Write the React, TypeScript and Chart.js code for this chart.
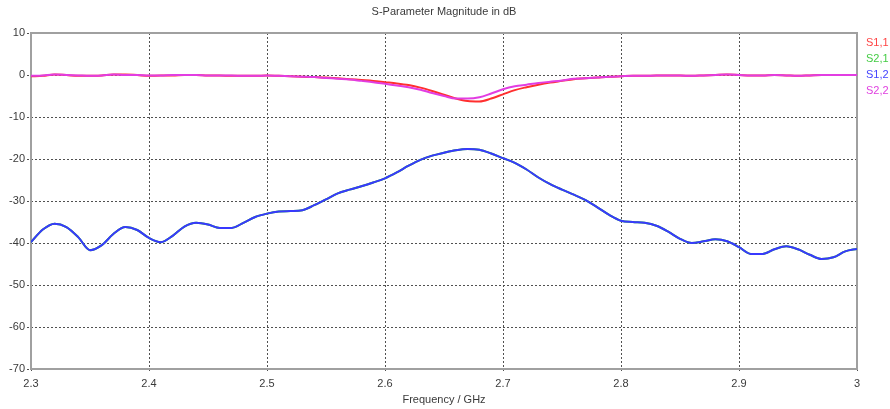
import React, { useEffect, useRef } from "react";
import { Chart, registerables } from "chart.js";

Chart.register(...registerables);

const TITLE = "S-Parameter Magnitude in dB";
const X_TITLE = "Frequency / GHz";
const SERIES_NAMES = ["S1,1", "S2,1", "S1,2", "S2,2"];
const SERIES_COLORS = ["#ff2f2f", "#22bb22", "#3838ff", "#e23de2"];
const LEGEND_COLORS = ["#ff4444", "#44cc44", "#4444ff", "#e040e0"];

const X_TICKS = [2.3, 2.4, 2.5, 2.6, 2.7, 2.8, 2.9, 3.0];
const Y_TICKS = [10, 0, -10, -20, -30, -40, -50, -60, -70];

const FREQ = [
  2.3, 2.31, 2.32, 2.33, 2.34, 2.35, 2.36, 2.37, 2.38, 2.39,
  2.4, 2.41, 2.42, 2.43, 2.44, 2.45, 2.46, 2.47, 2.48, 2.49,
  2.5, 2.51, 2.52, 2.53, 2.54, 2.55, 2.56, 2.57, 2.58, 2.59,
  2.6, 2.61, 2.62, 2.63, 2.64, 2.65, 2.66, 2.67, 2.68, 2.69,
  2.7, 2.71, 2.72, 2.73, 2.74, 2.75, 2.76, 2.77, 2.78, 2.79,
  2.8, 2.81, 2.82, 2.83, 2.84, 2.85, 2.86, 2.87, 2.88, 2.89,
  2.9, 2.91, 2.92, 2.93, 2.94, 2.95, 2.96, 2.97, 2.98, 2.99, 3.0,
];

const S11 = [
  -0.3, -0.2, 0.1, 0.0, -0.2, -0.2, -0.1, 0.1, 0.1, 0.0,
  -0.2, -0.1, -0.1, 0.0, 0.0, -0.1, -0.1, -0.2, -0.2, -0.2,
  -0.1, -0.2, -0.3, -0.4, -0.5, -0.6, -0.8, -1.0, -1.2, -1.4,
  -1.7, -2.0, -2.4, -3.0, -3.8, -4.7, -5.6, -6.2, -6.3, -5.6,
  -4.6, -3.6, -2.9, -2.3, -1.8, -1.4, -1.0, -0.8, -0.6, -0.4,
  -0.3, -0.2, -0.2, -0.1, -0.1, -0.1, -0.2, -0.1, 0.0, 0.1,
  0.0, -0.1, -0.1, 0.0, -0.1, -0.2, -0.1, 0.0, 0.0, 0.0, 0.0,
];

const S22 = [
  -0.2, -0.1, 0.1, 0.0, -0.1, -0.2, -0.1, 0.1, 0.0, 0.0,
  -0.1, -0.1, 0.0, 0.0, 0.0, -0.1, -0.1, -0.1, -0.2, -0.2,
  -0.1, -0.2, -0.3, -0.4, -0.5, -0.7, -0.9, -1.1, -1.4, -1.7,
  -2.1, -2.5, -2.9, -3.5, -4.3, -5.0, -5.6, -5.6, -5.3, -4.4,
  -3.4, -2.7, -2.3, -1.9, -1.6, -1.3, -0.9, -0.8, -0.6, -0.4,
  -0.3, -0.2, -0.2, -0.1, -0.1, -0.1, -0.2, -0.1, 0.0, 0.1,
  0.0, -0.1, -0.1, 0.0, -0.1, -0.2, -0.1, 0.0, 0.0, 0.0, 0.0,
];

const S12 = [
  -39.8, -36.8, -35.4, -36.2, -38.6, -41.7, -40.5, -37.8, -36.2, -36.9,
  -38.8, -39.8, -38.3, -36.1, -35.2, -35.6, -36.4, -36.4, -35.2, -33.8,
  -33.0, -32.5, -32.4, -32.2, -31.0, -29.6, -28.2, -27.3, -26.5, -25.6,
  -24.6, -23.2, -21.6, -20.2, -19.2, -18.5, -17.9, -17.6, -17.8, -18.7,
  -19.8, -20.9, -22.5, -24.4, -26.0, -27.3, -28.5, -29.8, -31.5, -33.3,
  -34.7, -35.0, -35.2, -35.9, -37.3, -39.0, -40.0, -39.6, -39.1, -39.6,
  -41.0, -42.6, -42.6, -41.5, -40.8, -41.5, -42.8, -43.8, -43.4, -42.0, -41.4,
];

const S21 = [
  -39.8, -36.8, -35.4, -36.2, -38.6, -41.7, -40.5, -37.8, -36.2, -36.9,
  -38.8, -39.8, -38.3, -36.1, -35.2, -35.6, -36.4, -36.4, -35.2, -33.8,
  -33.0, -32.5, -32.4, -32.2, -31.0, -29.6, -28.2, -27.3, -26.5, -25.6,
  -24.6, -23.2, -21.6, -20.2, -19.2, -18.5, -17.9, -17.6, -17.8, -18.7,
  -19.8, -20.9, -22.5, -24.4, -26.0, -27.3, -28.5, -29.8, -31.5, -33.3,
  -34.7, -35.0, -35.2, -35.9, -37.3, -39.0, -40.0, -39.6, -39.1, -39.6,
  -41.0, -42.6, -42.6, -41.5, -40.8, -41.5, -42.8, -43.8, -43.4, -42.0, -41.4,
];

const X_MIN = 2.3;
const X_MAX = 3.0;
const Y_MIN = -70;
const Y_MAX = 10;

const FONT = "'Liberation Sans', Arial, sans-serif";

const decorPlugin = {
  id: "decor",
  beforeDatasetsDraw(chart: any) {
    const { ctx, chartArea } = chart;
    const xs = chart.scales.x;
    const ys = chart.scales.y;
    ctx.save();
    // dotted grid
    ctx.strokeStyle = "#505050";
    ctx.lineWidth = 1;
    ctx.setLineDash([2, 2]);
    X_TICKS.forEach((v) => {
      const px = Math.round(xs.getPixelForValue(v)) + 0.5;
      ctx.beginPath();
      ctx.moveTo(px, chartArea.top);
      ctx.lineTo(px, chartArea.bottom + 4);
      ctx.stroke();
    });
    Y_TICKS.forEach((v) => {
      const py = Math.round(ys.getPixelForValue(v)) + 0.5;
      ctx.beginPath();
      ctx.moveTo(chartArea.left - 4, py);
      ctx.lineTo(chartArea.right, py);
      ctx.stroke();
    });
    ctx.setLineDash([]);
    // frame
    ctx.strokeStyle = "#a0a0a0";
    ctx.lineWidth = 2;
    ctx.strokeRect(
      chartArea.left,
      chartArea.top,
      chartArea.right - chartArea.left,
      chartArea.bottom - chartArea.top
    );
    ctx.restore();
  },
  afterDraw(chart: any) {
    const { ctx, chartArea } = chart;
    const cx = (chartArea.left + chartArea.right) / 2;
    ctx.save();
    ctx.font = `11px ${FONT}`;
    ctx.fillStyle = "#3a3a3a";
    ctx.textAlign = "center";
    ctx.textBaseline = "middle";
    ctx.fillText(TITLE, cx, 12);
    ctx.fillText(X_TITLE, cx, 400);
    ctx.textAlign = "left";
    SERIES_NAMES.forEach((n, i) => {
      ctx.fillStyle = LEGEND_COLORS[i];
      ctx.fillText(n, chartArea.right + 9, 43 + i * 16);
    });
    ctx.restore();
  },
};

export default function App() {
  const ref = useRef<HTMLCanvasElement>(null);
  useEffect(() => {
    if (!ref.current) return;
    const series = [S11, S21, S12, S22];
    const orders = [3, 2, 1, 0];
    const chart = new Chart(ref.current, {
      type: "line",
      data: {
        datasets: series.map((s, i) => ({
          label: SERIES_NAMES[i],
          data: FREQ.map((f, j) => ({ x: f, y: s[j] })),
          borderColor: SERIES_COLORS[i],
          backgroundColor: SERIES_COLORS[i],
          borderWidth: 2,
          pointRadius: 0,
          cubicInterpolationMode: "monotone",
          fill: false,
          order: orders[i],
        })),
      },
      options: {
        responsive: false,
        animation: false,
        events: [],
        layout: { padding: { top: 33, right: 33, left: 0, bottom: 0 } },
        plugins: {
          legend: { display: false },
          title: { display: false },
          tooltip: { enabled: false },
        },
        scales: {
          x: {
            type: "linear",
            min: X_MIN,
            max: X_MAX,
            afterFit(scale: any) {
              scale.height = 40;
            },
            afterBuildTicks(scale: any) {
              scale.ticks = X_TICKS.map((v) => ({ value: v }));
            },
            ticks: {
              callback: (v: any) => String(Math.round(Number(v) * 10) / 10),
              font: { family: FONT, size: 11 },
              color: "#3a3a3a",
              padding: 4,
              maxRotation: 0,
            },
            grid: {
              color: "rgba(0,0,0,0)",
              lineWidth: 1,
              tickLength: 4,
              drawTicks: true,
            },
            border: { display: false },
          },
          y: {
            type: "linear",
            min: Y_MIN,
            max: Y_MAX,
            afterFit(scale: any) {
              scale.width = 31;
            },
            afterBuildTicks(scale: any) {
              scale.ticks = Y_TICKS.map((v) => ({ value: v }));
            },
            ticks: {
              font: { family: FONT, size: 11 },
              color: "#3a3a3a",
              padding: 2,
            },
            grid: {
              color: "rgba(0,0,0,0)",
              lineWidth: 1,
              tickLength: 4,
              drawTicks: true,
            },
            border: { display: false },
          },
        },
      },
      plugins: [decorPlugin],
    } as any);
    return () => chart.destroy();
  }, []);
  return (
    <div style={{ position: "absolute", left: 0, top: 0, width: 890, height: 409, background: "#fff" }}>
      <canvas ref={ref} width={890} height={409} />
    </div>
  );
}
